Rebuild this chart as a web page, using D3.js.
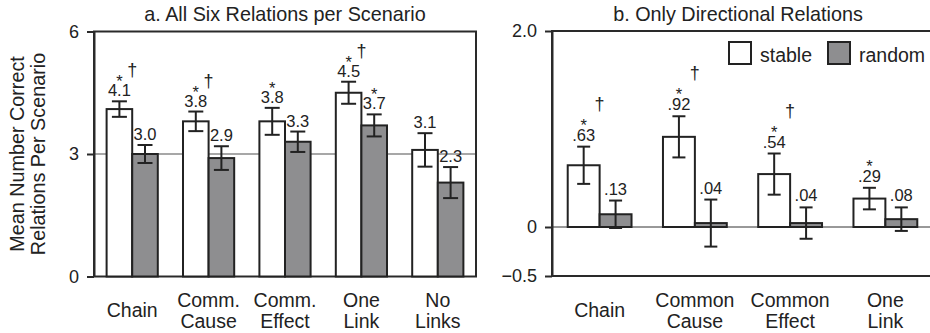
<!DOCTYPE html>
<html>
<head>
<meta charset="utf-8">
<script src="https://cdn.jsdelivr.net/npm/d3@7"></script>
<style>
  body { margin: 0; background: #fff; }
  svg { display: block; }
  text { font-family: "Liberation Sans", Arial, sans-serif; fill: #222; }
</style>
</head>
<body>
<svg id="chart" width="930" height="333"></svg>
<script>
// ---- Panel a: all six relations per scenario ----
const scenariosA = [["Chain"], ["Comm.", "Cause"], ["Comm.", "Effect"], ["One", "Link"], ["No", "Links"]];
const stableA = [4.1, 3.8, 3.8, 4.5, 3.1];
const randomA = [3.0, 2.9, 3.3, 3.7, 2.3];
const stableErrA = [0.19, 0.24, 0.33, 0.27, 0.41];
const randomErrA = [0.22, 0.29, 0.25, 0.27, 0.38];
const stableStarA = [true, true, true, true, false];
const randomStarA = [false, false, false, true, false];
const daggerA = [true, true, false, true, false];
const ticksA = [0, 3, 6];

// ---- Panel b: only directional relations ----
const scenariosB = [["Chain"], ["Common", "Cause"], ["Common", "Effect"], ["One", "Link"]];
const stableB = [0.63, 0.92, 0.54, 0.29];
const randomB = [0.13, 0.04, 0.04, 0.08];
const stableErrB = [0.19, 0.21, 0.21, 0.11];
const randomErrB = [0.14, 0.24, 0.16, 0.12];
const stableStarB = [true, true, true, true];
const randomStarB = [false, false, false, false];
const daggerB = [true, true, true, false];
const ticksB = [-0.5, 0, 2.0];

const yTitle = ["Mean Number Correct", "Relations Per Scenario"];
const conditions = ["stable", "random"];
const fills = { stable: "#ffffff", random: "#8e8e90" };
const ink = "#222";

const svg = d3.select("#chart");

function drawPanel(cfg) {
  const g = svg.append("g");
  const y = d3.scaleLinear().domain(cfg.domain).range([cfg.bottom, cfg.top]);
  const x = d3.scaleBand()
    .domain(cfg.scenarios.map((d, i) => i))
    .range([cfg.left, cfg.right])
    .paddingInner(0.33).paddingOuter(0.165);
  const xs = d3.scaleBand().domain(conditions).range([0, x.bandwidth()]);

  // reference line (behind bars)
  g.append("line")
    .attr("x1", cfg.left).attr("x2", cfg.right)
    .attr("y1", y(cfg.refValue)).attr("y2", y(cfg.refValue))
    .attr("stroke", cfg.refColor).attr("stroke-width", cfg.refWidth);

  // frame
  g.append("rect")
    .attr("x", cfg.left).attr("y", cfg.top)
    .attr("width", cfg.right - cfg.left).attr("height", cfg.bottom - cfg.top)
    .attr("fill", "none").attr("stroke", "#2a2a2a").attr("stroke-width", 2);

  // axis
  const axis = d3.axisLeft(y).tickValues(cfg.ticks).tickFormat(cfg.tickFormat)
    .tickSize(7).tickPadding(8).tickSizeOuter(0);
  const ag = g.append("g").attr("transform", `translate(${cfg.left},0)`).call(axis);
  ag.select(".domain").attr("stroke", "#2a2a2a").attr("stroke-width", 2);
  ag.selectAll(".tick line").attr("stroke", "#2a2a2a").attr("stroke-width", 2);
  ag.selectAll(".tick text")
    .style("font-family", '"Liberation Sans", Arial, sans-serif')
    .style("font-size", "18px").attr("fill", ink);

  // title
  g.append("text")
    .attr("x", cfg.titleX).attr("y", 20.5)
    .attr("text-anchor", "middle").style("font-size", "19.8px")
    .text(cfg.title);

  const rows = cfg.scenarios.map((s, i) => ({
    i,
    bars: [
      { c: "stable", v: cfg.stable[i], e: cfg.stableErr[i], star: cfg.stableStar[i] },
      { c: "random", v: cfg.random[i], e: cfg.randomErr[i], star: cfg.randomStar[i] }
    ]
  }));

  const grp = g.selectAll(".grp").data(rows).join("g")
    .attr("transform", d => `translate(${x(d.i)},0)`);

  const bar = grp.selectAll(".bar").data(d => d.bars).join("g");

  bar.append("rect")
    .attr("x", d => xs(d.c))
    .attr("width", xs.bandwidth())
    .attr("y", d => Math.min(y(d.v), y(0)))
    .attr("height", d => Math.abs(y(0) - y(d.v)))
    .attr("fill", d => fills[d.c])
    .attr("stroke", ink).attr("stroke-width", 2);

  // error bars and value labels (significance star stacked above the value)
  const cap = cfg.capWidth / 2;
  bar.each(function(d) {
    const b = d3.select(this);
    const cx = xs(d.c) + xs.bandwidth() / 2;
    const y1 = y(d.v + d.e), y2 = y(d.v - d.e);
    b.append("line").attr("x1", cx).attr("x2", cx).attr("y1", y1).attr("y2", y2);
    b.append("line").attr("x1", cx - cap).attr("x2", cx + cap).attr("y1", y1).attr("y2", y1);
    b.append("line").attr("x1", cx - cap).attr("x2", cx + cap).attr("y1", y2).attr("y2", y2);
    b.selectAll("line").attr("stroke", ink).attr("stroke-width", 2);

    const ly = y1 - cfg.labelGap;
    const t = b.append("text").attr("text-anchor", "middle").style("font-size", "16.5px");
    if (d.star) {
      t.append("tspan").attr("x", cx).attr("y", ly - cfg.starLift).text("*");
    }
    t.append("tspan").attr("x", cx).attr("y", ly).text(cfg.valueFormat(d.v));
  });

  // daggers over the group
  grp.filter(d => cfg.dagger[d.i]).append("text")
    .attr("x", x.bandwidth() / 2)
    .attr("y", d => y(d.bars[0].v + d.bars[0].e) - cfg.labelGap - cfg.daggerLift)
    .attr("text-anchor", "middle").style("font-size", "18px")
    .text("\u2020");

  // category labels
  grp.each(function(d) {
    const lines = cfg.scenarios[d.i];
    const t = d3.select(this).append("text")
      .attr("text-anchor", "middle").style("font-size", "19.5px");
    const base = lines.length === 1 ? 317 : 306.5;
    lines.forEach((l, k) => {
      t.append("tspan").attr("x", x.bandwidth() / 2).attr("y", base + k * 21.5).text(l);
    });
  });

  return { x, y };
}

const pA = drawPanel({
  title: "a. All Six Relations per Scenario",
  titleX: 285,
  scenarios: scenariosA,
  stable: stableA, random: randomA,
  stableErr: stableErrA, randomErr: randomErrA,
  stableStar: stableStarA, randomStar: randomStarA, dagger: daggerA,
  domain: [0, 6], ticks: ticksA, tickFormat: d3.format("d"),
  valueFormat: d3.format(".1f"),
  left: 94, right: 476, top: 31.5, bottom: 276.5,
  refValue: 3, refColor: "#8a8a8a", refWidth: 1.5,
  capWidth: 15, labelGap: 5, starLift: 9, daggerLift: 20
});

const fmtB = v => d3.format(".2f")(v).replace(/^0/, "");
drawPanel({
  title: "b. Only Directional Relations",
  titleX: 738,
  scenarios: scenariosB,
  stable: stableB, random: randomB,
  stableErr: stableErrB, randomErr: randomErrB,
  stableStar: stableStarB, randomStar: randomStarB, dagger: daggerB,
  domain: [-0.5, 2.0], ticks: ticksB,
  tickFormat: v => v === 0 ? "0" : d3.format(".1f")(v),
  valueFormat: fmtB,
  left: 552, right: 933, top: 31, bottom: 276,
  refValue: 0, refColor: "#333", refWidth: 1,
  capWidth: 13, labelGap: 6, starLift: 10, daggerLift: 31
});

// y-axis title for panel a (two lines, rotated)
const yMid = (pA.y.range()[0] + pA.y.range()[1]) / 2;
const yt = svg.append("text")
  .attr("transform", `translate(0,${yMid}) rotate(-90)`)
  .attr("text-anchor", "middle").style("font-size", "19.8px");
yTitle.forEach((l, k) => {
  yt.append("tspan").attr("x", 0).attr("y", 24 + k * 21).text(l);
});

// legend
const legendItems = [
  { c: "stable", label: "stable", x: 729 },
  { c: "random", label: "random", x: 828 }
];
const lg = svg.append("g").selectAll("g").data(legendItems).join("g")
  .attr("transform", d => `translate(${d.x},42)`);
lg.append("rect").attr("width", 22).attr("height", 22)
  .attr("fill", d => fills[d.c]).attr("stroke", ink).attr("stroke-width", 2);
lg.append("text").attr("x", 31).attr("y", 19.5).style("font-size", "19.5px").text(d => d.label);
</script>
</body>
</html>
